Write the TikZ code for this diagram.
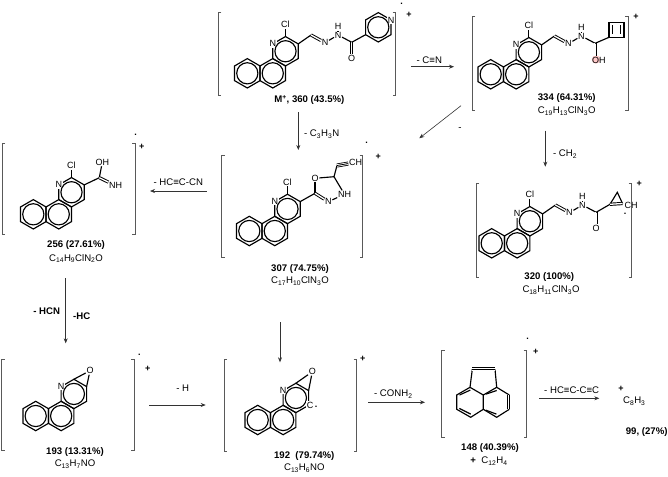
\documentclass[tikz,border=0pt]{standalone}
\usepackage{fontspec}
\setmainfont{Liberation Sans}
\usetikzlibrary{positioning,calc,arrows.meta}

\definecolor{brkgray}{gray}{0.35}
\newcommand{\hexring}[2]{\draw[bond,shift={(#1,#2)}] (30:14.7) -- (90:14.7) -- (150:14.7) -- (210:14.7) -- (270:14.7) -- (330:14.7) -- cycle;}
\newcommand{\ringcirc}[2]{\draw[bond,shift={(#1,#2)}] (0,0) circle (10.6);}
\newcommand{\brackets}[4]{\draw[brk] (#1+3,#2) -- (#1,#2) -- (#1,#4) -- (#1+3,#4); \draw[brk] (#3-3,#2) -- (#3,#2) -- (#3,#4) -- (#3-3,#4);}
\newcommand{\triplebond}[2]{\draw[black,double,double distance=2.4pt,line width=.8pt] #1 -- #2; \draw[black,line width=.8pt] #1 -- #2;}
\newcommand{\tsub}[1]{\textsubscript{#1}}

\tikzset{
    bond/.style={line width=1.15pt, black},
    dbond/.style={line width=.95pt, double, double distance=1.3pt, black},
    brk/.style={line width=.8pt, brkgray},
    rxn/.style={line width=.6pt, black!80, -{Stealth[length=5pt,width=4pt]}},
    atom/.style={font=\fontsize{9}{9}\selectfont, inner sep=.6pt},
    ringatom/.style={atom, fill=white},
    mass/.style={font=\fontsize{9.6}{10}\selectfont\bfseries, inner sep=0pt},
    formula/.style={font=\fontsize{9.6}{10}\selectfont, inner sep=0pt},
    loss/.style={font=\fontsize{9.6}{10}\selectfont, inner sep=0pt},
    chg/.style={font=\fontsize{9}{10}\selectfont\bfseries, inner sep=0pt},
    core/.pic={
        \hexring{0}{0}
        \hexring{25.46}{0}
        \hexring{38.19}{-22.05}
        \node[ringatom] (-n) at (25.46,-29.4) {N};
        \ringcirc{0}{0}
        \ringcirc{25.46}{0}
        \ringcirc{38.19}{-22.05}
        \coordinate (-top) at (38.19,-36.75);
        \coordinate (-rt) at (50.92,-29.4);
        \coordinate (-rb) at (50.92,-14.7);
    },
    hydrazone/.pic={
        \coordinate (-ch) at (12.8,-8.9);
        \node[atom] (-n) at (26.8,-1.2) {N};
        \node[atom] (-nh) at (39.8,-8.9) {N};
        \node[atom] (-h) at (39.8,-17.2) {H};
        \coordinate (-co) at (53.5,-1.6);
        \draw[bond] (0,0) -- (-ch);
        \draw[dbond] (-ch) -- (-n);
        \draw[bond] (-n) -- (-nh);
        \draw[bond] (-nh) -- (-h);
        \draw[bond] (-nh) -- (-co);
    },
}

\begin{document}
\begin{tikzpicture}[x=1pt, y=-1pt]
    \useasboundingbox (0,0) rectangle (668,476);

    % molecular ion
    \pic (m) at (247.3,73.3) {core};
    \node[atom, above=8pt of m-top] (mcl) {Cl};
    \draw[bond] (m-top) -- (mcl);
    \pic (mh) at (m-rt) {hydrazone};
    \node[atom] (mo) at ($(mh-co)+(0,16)$) {O};
    \draw[dbond] (mh-co) -- (mo);
    \coordinate (mpy) at (365.6,34.7);
    \draw[bond] (mh-co) -- (mpy);
    \hexring{378.3}{27.3}
    \node[ringatom] (mpn) at (391,20) {N};
    \ringcirc{378.3}{27.3}
    \brackets{218.3}{12.7}{395.7}{95}
    \node[chg] (mplus) at (409,15) {+};
    \node[chg] (mdot) at (401.7,4) {.};
    \node[mass] (mlbl) at (309.3,100) {M\textsuperscript{+}, 360 (43.5\%)};

    % 334
    \pic (a) at (490.7,74.3) {core};
    \node[atom, above=8pt of a-top] (acl) {Cl};
    \draw[bond] (a-top) -- (acl);
    \pic (ah) at (a-rt) {hydrazone};
    \fill[red!22] (596,59.5) circle (4.2);
    \node[atom] (aoh) at (598.8,60) {OH};
    \draw[dbond] (ah-co) -- (aoh.north -| ah-co);
    \draw[bond] (ah-co) -- (609,37.3);
    \draw[bond] (609,22.7) rectangle (624,37.3);
    \draw[bond] (612.7,25.5) -- (612.7,34.5);
    \draw[bond] (620.7,25.5) -- (620.7,34.5);
    \brackets{472.3}{16}{628.3}{110}
    \node[chg] (aplus) at (636,16.7) {+};
    \node[mass] (albl) at (566.7,97.7) {334 (64.31\%)};
    \node[formula] (afm) at (566.7,111) {C\tsub{19}H\tsub{13}ClN\tsub{3}O};

    % 256
    \pic (b) at (33.3,214.3) {core};
    \node[atom, above=8pt of b-top] (bcl) {Cl};
    \draw[bond] (b-top) -- (bcl);
    \coordinate (bc) at (99.3,177.7);
    \node[atom] (boh) at (102.3,162.3) {OH};
    \node[atom] (bnh) at (115.7,185.7) {NH};
    \draw[bond] (b-rt) -- (bc);
    \draw[bond] (bc) -- (boh);
    \draw[dbond] (bc) -- (bnh);
    \brackets{2}{143.3}{135}{234.3}
    \node[chg] (bplus) at (141.7,146.7) {+};
    \node[chg] (bdot) at (135.7,135) {.};
    \node[mass] (blbl) at (76,245) {256 (27.61\%)};
    \node[formula] (bfm) at (76,258.5) {C\tsub{14}H\tsub{9}ClN\tsub{2}O};

    % 307
    \pic (c) at (249.3,231) {core};
    \node[atom, above=8pt of c-top] (ccl) {Cl};
    \draw[bond] (c-top) -- (ccl);
    \coordinate (cc2) at (315,193.3);
    \coordinate (cc5) at (334,176.7);
    \node[atom] (co) at (315,178.3) {O};
    \node[atom] (cn) at (328.3,201.7) {N};
    \node[atom] (cnh) at (344.5,194.3) {NH};
    \node[atom] (cch) at (355.5,162.3) {CH};
    \coordinate (ctr) at (337,165.5);
    \draw[bond] (c-rt) -- (cc2);
    \draw[bond] (cc2) -- (co);
    \draw[bond] (co) -- (cc5);
    \draw[bond] (cc5) -- (cnh);
    \draw[bond] (cnh) -- (cn);
    \draw[dbond] (cn) -- (cc2);
    \draw[bond] (cc5) -- (ctr);
    \triplebond{(ctr)}{(cch)}
    \brackets{221.7}{155.7}{362.7}{257.3}
    \node[chg] (cplus) at (378.3,156.7) {+};
    \node[chg] (cdot) at (366.7,142.7) {.};
    \node[mass] (clbl) at (300,268.7) {307 (74.75\%)};
    \node[formula] (cfm) at (300,281) {C\tsub{17}H\tsub{10}ClN\tsub{3}O};

    % 320
    \pic (d) at (491.7,243.3) {core};
    \node[atom, above=8pt of d-top] (dcl) {Cl};
    \draw[bond] (d-top) -- (dcl);
    \pic (dh) at (d-rt) {hydrazone};
    \node[atom] (do) at ($(dh-co)+(0,16)$) {O};
    \draw[dbond] (dh-co) -- (do);
    \coordinate (dp1) at (610,204.3);
    \coordinate (dp2) at (617.3,192.3);
    \coordinate (dp3) at (622.5,203.5);
    \node[atom] (dch) at (631,205) {CH};
    \draw[bond] (dh-co) -- (dp1);
    \draw[bond] (dp1) -- (dp2) -- (dp3);
    \draw[dbond] (dp1) -- (dp3);
    \brackets{476}{183.3}{631.7}{277.7}
    \node[chg] (dplus) at (639.3,184) {+};
    \node[chg] (ddot) at (625,214) {.};
    \node[mass] (dlbl) at (549.3,276.7) {320 (100\%)};
    \node[formula] (dfm) at (551,290) {C\tsub{18}H\tsub{11}ClN\tsub{3}O};

    % 193
    \pic (e) at (35.7,416) {core};
    \node[atom] (eo) at (90,370.7) {O};
    \draw[bond] (e-top) -- (eo);
    \draw[bond] (e-rt) -- (eo);
    \brackets{1.7}{359.3}{134.3}{450.7}
    \node[chg] (eplus) at (147.7,369) {+};
    \node[chg] (edot) at (139.3,355) {.};
    \node[mass] (elbl) at (75,451.7) {193 (13.31\%)};
    \node[formula] (efm) at (75,464) {C\tsub{13}H\tsub{7}NO};

    % 192
    \pic (f) at (257.7,420) {core};
    \node[atom] (fo) at (312.3,371.7) {O};
    \node[ringatom] (fc) at (310,405) {C};
    \draw[bond] (f-top) -- (fo);
    \draw[bond] (f-rt) -- (fo);
    \node[chg] (fdot) at (316,406.7) {.};
    \brackets{224}{359.5}{356.7}{451.7}
    \node[chg] (fplus) at (362.7,359.3) {+};
    \node[mass] (flbl) at (304.3,456) {192\ \ (79.74\%)};
    \node[formula] (ffm) at (304.3,468.3) {C\tsub{13}H\tsub{6}NO};

    % 148
    \coordinate (g1) at (470,387.3);
    \coordinate (g2) at (456.7,395);
    \coordinate (g3) at (456.7,409.3);
    \coordinate (g4) at (470.7,417.3);
    \coordinate (g5) at (483.3,409.3);
    \coordinate (g6) at (483.3,395);
    \coordinate (g7) at (496.7,387.3);
    \coordinate (g8) at (509.3,395);
    \coordinate (g9) at (509.3,409.3);
    \coordinate (g10) at (496.7,417.3);
    \coordinate (g11) at (472.3,369.3);
    \coordinate (g12) at (495,369.3);
    \draw[bond] (g1) -- (g2) -- (g3) -- (g4) -- (g5) -- (g6) -- cycle;
    \draw[bond] (g6) -- (g7) -- (g8);
    \draw[bond] (g9) -- (g10) -- (g5);
    \draw[bond] (g1) -- (g11);
    \draw[bond] (g7) -- (g12);
    \draw[bond] ($(g2)+(2.8,0)$) -- ($(g1)+(.3,2.8)$);
    \draw[bond] ($(g3)+(2.6,-.9)$) -- ($(g4)+(0,-3.2)$);
    \draw[bond] ($(g5)+(2.6,.9)$) -- ($(g10)+(-.3,-3.2)$);
    \draw[bond] ($(g6)+(2.6,-.9)$) -- ($(g7)+(0,3.2)$);
    \triplebond{(g11)}{(g12)}
    \triplebond{(g8)}{(g9)}
    \brackets{441.7}{350.7}{526.7}{437.7}
    \node[chg] (gplus) at (535.7,352.3) {+};
    \node[chg] (gdot) at (527.7,339) {.};
    \node[mass] (glbl) at (490,448.3) {148 (40.39\%)};
    \node[formula] (gfm) at (489,461) {\textbf{+} \ C\tsub{12}H\tsub{4}};

    % end fragment
    \node[chg] (hplus) at (621,389) {+};
    \node[formula] (hfm) at (634.3,401) {C\tsub{8}H\tsub{3}};
    \node[mass] (hlbl) at (646.7,431.7) {99, (27\%)};

    % arrows
    \coordinate (r1a) at (298.3,112);
    \coordinate (r1b) at (298.3,150);
    \coordinate (r2a) at (411,66.7);
    \coordinate (r2b) at (454,66.7);
    \coordinate (r3a) at (461,105.7);
    \coordinate (r3b) at (419.3,138.3);
    \coordinate (r4a) at (545.3,130.7);
    \coordinate (r4b) at (545.3,166.7);
    \coordinate (r5a) at (206.7,191);
    \coordinate (r5b) at (150,191);
    \coordinate (r6a) at (65.7,278.3);
    \coordinate (r6b) at (65.7,343.3);
    \coordinate (r7a) at (149,405);
    \coordinate (r7b) at (205.7,405);
    \coordinate (r8a) at (280,322);
    \coordinate (r8b) at (280,362.3);
    \coordinate (r9a) at (368.3,402.3);
    \coordinate (r9b) at (425,402.3);
    \coordinate (r10a) at (539,398.3);
    \coordinate (r10b) at (599.3,398.3);
    \foreach \i in {1,...,10} \draw[rxn] (r\i a) -- (r\i b);

    \node[loss] (l1) at (321.7,134) {- C\tsub{3}H\tsub{3}N};
    \node[loss] (l2) at (429.3,60.3) {- C≡N};
    \node[loss] (l3) at (460,129.3) {-};
    \node[loss] (l4) at (565,154) {- CH\tsub{2}};
    \node[loss] (l5) at (178.3,181.7) {- HC≡C-CN};
    \node[mass] (l6) at (46.7,311) {- HCN};
    \node[mass] (l7) at (81.7,316) {-HC};
    \node[loss] (l8) at (182.7,388.3) {- H};
    \node[loss] (l9) at (393.3,394.3) {- CONH\tsub{2}};
    \node[loss] (l10) at (571.7,390) {- HC≡C-C≡C};
\end{tikzpicture}
\end{document}
